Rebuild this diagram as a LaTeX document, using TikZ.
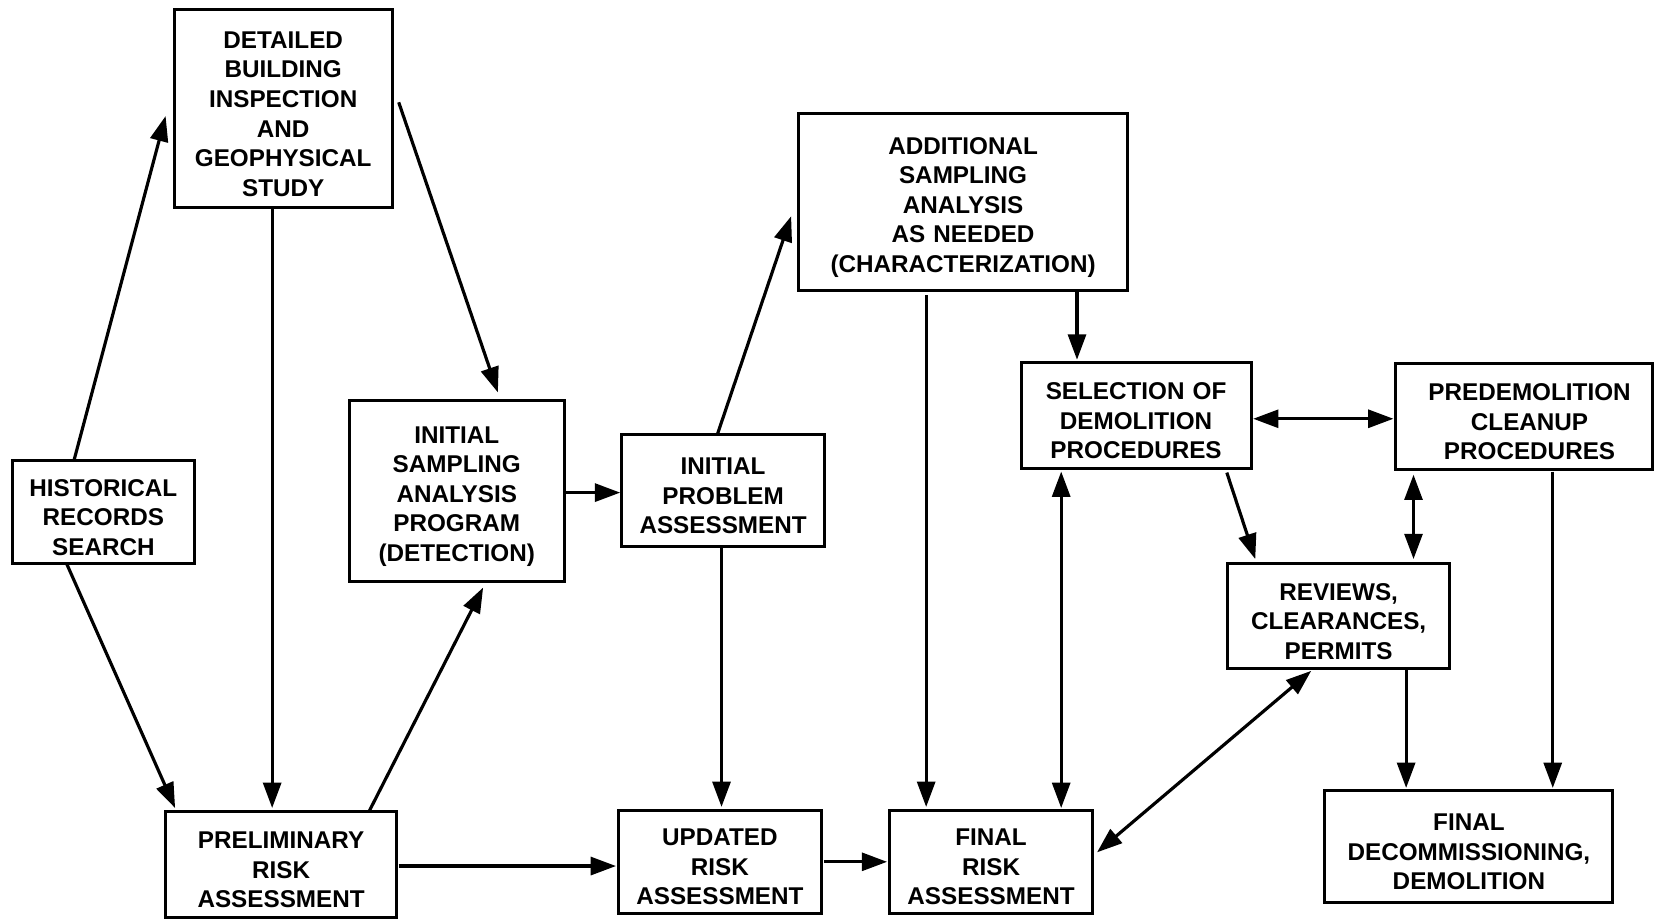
\documentclass[tikz,border=0pt]{standalone}
\usepackage{fontspec}
\newfontfamily\diagfont{Liberation Sans}
\usetikzlibrary{arrows.meta,calc}
\tikzset{
  box/.style={draw, line width=1.4pt, rectangle, inner sep=0pt, outer sep=0pt, align=center,
    font=\diagfont\bfseries\fontsize{11.5}{14}\selectfont,
    execute at begin node={\rule{0pt}{13pt}}},
  arr/.style={line width=1.5pt, -{Triangle[length=12pt,width=8.5pt]}},
  darr/.style={line width=1.5pt, {Triangle[length=12pt,width=8.5pt]}-{Triangle[length=12pt,width=8.5pt]}}
}
\begin{document}
\begin{tikzpicture}[x=0.5pt,y=-0.5pt]
\fill[white] (0,0) rectangle (1568,871);
\useasboundingbox (0,0) rectangle (1568,871);

\node[box, minimum width=86pt, minimum height=48.5pt, text width=82pt] (hist) at (98,485.5) {HISTORICAL\\RECORDS\\SEARCH};
\node[box, minimum width=103.5pt, minimum height=94pt, text width=99pt] (detail) at (268.5,103) {DETAILED\\BUILDING\\INSPECTION\\AND\\GEOPHYSICAL\\STUDY};
\node[box, minimum width=102pt, minimum height=85.5pt, text width=98pt] (isap) at (433,465.5) {INITIAL\\SAMPLING\\ANALYSIS\\PROGRAM\\(DETECTION)};
\node[box, minimum width=96.5pt, minimum height=53pt, text width=92pt] (ipa) at (685.5,465) {INITIAL\\PROBLEM\\ASSESSMENT};
\node[box, minimum width=156pt, minimum height=83.5pt, text width=150pt] (addl) at (913,191.5) {ADDITIONAL\\SAMPLING\\ANALYSIS\\AS NEEDED\\(CHARACTERIZATION)};
\node[box, minimum width=109pt, minimum height=50pt, text width=105pt] (sel) at (1077,394) {SELECTION OF\\DEMOLITION\\PROCEDURES};
\node[box, minimum width=122pt, minimum height=50pt, text width=118pt] (pre) at (1445,395) {\hspace*{5pt}PREDEMOLITION\\\hspace*{5pt}CLEANUP\\\hspace*{5pt}PROCEDURES};
\node[box, minimum width=105pt, minimum height=50pt, text width=101pt] (rev) at (1269,584) {REVIEWS,\\CLEARANCES,\\PERMITS};
\node[box, minimum width=109.5pt, minimum height=50.5pt, text width=105pt] (prelim) at (266.5,819.5) {PRELIMINARY\\RISK\\ASSESSMENT};
\node[box, minimum width=96.5pt, minimum height=49pt, text width=92pt] (upd) at (682.5,817) {UPDATED\\RISK\\ASSESSMENT};
\node[box, minimum width=96.5pt, minimum height=49pt, text width=92pt] (frisk) at (939.5,817) {FINAL\\RISK\\ASSESSMENT};
\node[box, minimum width=136.5pt, minimum height=53.5pt, text width=132pt] (fdec) at (1392.5,802.5) {FINAL\\DECOMMISSIONING,\\DEMOLITION};

\draw[arr] ($(hist.north)+(-28,0)$) -- ($(detail.west)+(-8,7)$);
\draw[arr] ($(detail.east)+(6,-6)$) -- ($(isap.north)+(39,-8)$);
\draw[arr] ($(detail.south)+(-10.5,0)$) -- ($(prelim.north)+(-8.5,-3)$);
\draw[arr] ($(hist.south)+(-35,0)$) -- ($(prelim.north west)+(9,-3)$);
\draw[arr] ($(prelim.north)+(83.5,0)$) -- ($(isap.south)+(25,6)$);
\draw[arr] ($(prelim.east)+(2,1.5)$) -- ($(upd.west)+(-2,4)$);
\draw[arr] ($(isap.east)+(2,1.5)$) -- ($(ipa.west)+(-1,2)$);
\draw[arr] ($(ipa.north)+(-5.5,0)$) -- ($(addl.west)+(-7,13.5)$);
\draw[arr] ($(ipa.south)+(-1.5,0)$) -- ($(upd.north)+(1.5,-3)$);
\draw[arr] ($(upd.east)+(2,0)$) -- ($(frisk.west)+(-2,0)$);
\draw[arr] ($(addl.south)+(-35,5)$) -- ($(frisk.north)+(-61.5,-3)$);
\draw[arr] ($(addl.south)+(108,0)$) -- ($(sel.north)+(-56,-3)$);
\draw[darr] ($(sel.south)+(-71,3)$) -- ($(frisk.north)+(66.5,-2)$);
\draw[darr] ($(sel.east)+(2,3)$) -- ($(pre.west)+(-2,2)$);
\draw[arr] ($(sel.south)+(86,4)$) -- ($(rev.north west)+(26,-4)$);
\draw[darr] ($(pre.south)+(-105,5)$) -- ($(rev.north)+(71,-4)$);
\draw[darr] ($(frisk.east)+(4,-9)$) -- ($(rev.south)+(-26,2)$);
\draw[arr] ($(rev.south)+(64,0)$) -- ($(fdec.north)+(-59.5,-2)$);
\draw[arr] ($(pre.south)+(27,2)$) -- ($(fdec.north)+(79.5,-2)$);
\end{tikzpicture}
\end{document}
